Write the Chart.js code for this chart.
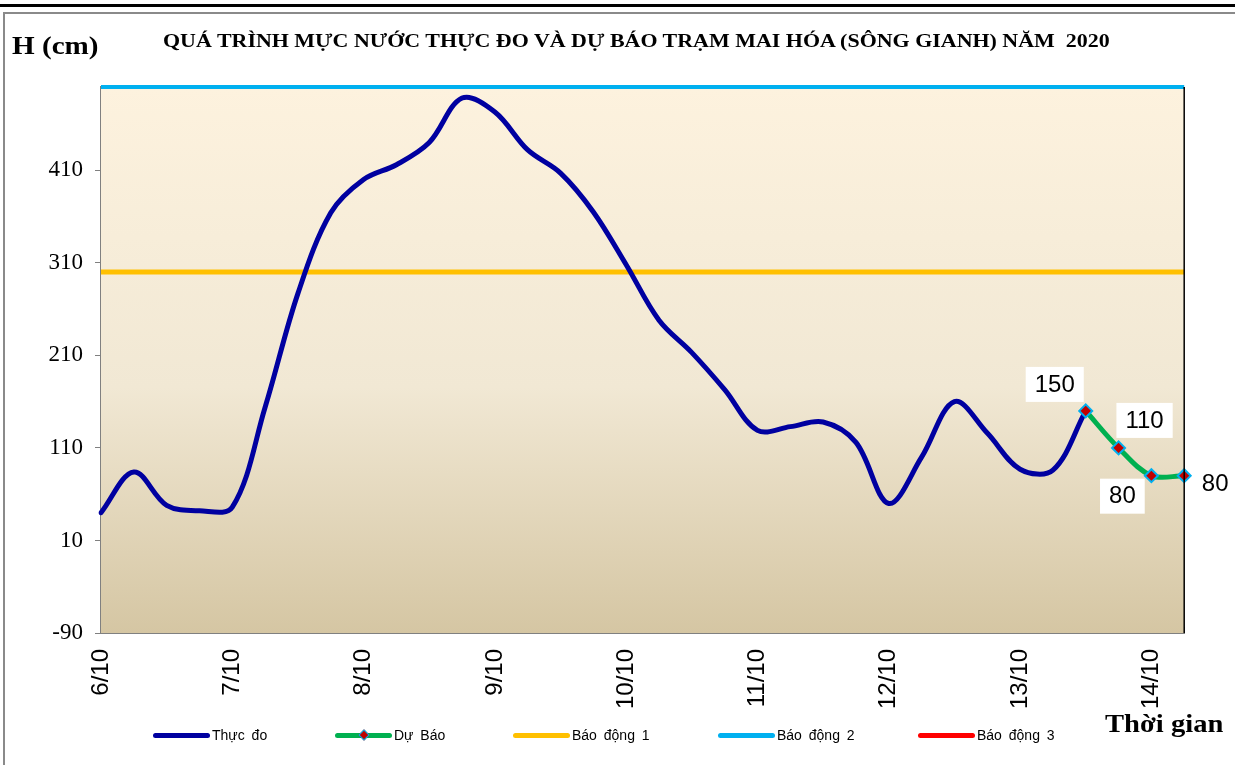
<!DOCTYPE html>
<html>
<head>
<meta charset="utf-8">
<script src="https://cdn.jsdelivr.net/npm/chart.js@4.4.0/dist/chart.umd.min.js"></script>
<style>
  html, body { margin: 0; padding: 0; background: #fff; }
  #wrap { position: relative; width: 1235px; height: 765px; overflow: hidden; }
  #chart { position: absolute; left: 0; top: 0; }
  .topline { position: absolute; left: 0; top: 4px; width: 1235px; height: 3px; background: #000; }
  .frame { position: absolute; left: 3px; top: 12px; width: 1260px; height: 800px; border-left: 2px solid #8a8a8a; border-top: 2px solid #8a8a8a; }
  .t { position: absolute; font-family: "Liberation Serif", "Times New Roman", serif; font-weight: bold; color: #000; white-space: nowrap; transform-origin: left center; }
  #title { left: 163px; top: 31px; font-size: 18px; transform: scaleX(1.22); }
  #hcm { left: 12px; top: 31px; font-size: 26px; transform: scaleX(1.12); }
  #time { left: 1105px; top: 709px; font-size: 26px; transform: scaleX(1.1); }
  .leg { position: absolute; top: 727px; font-family: "Liberation Sans", Arial, sans-serif; font-size: 14px; word-spacing: 3px; color: #000; display: flex; align-items: center; }
  .leg i { display: block; width: 57px; height: 5px; border-radius: 3px; margin-right: 2px; position: relative; }
  .leg i b { position: absolute; left: 25px; top: -2px; width: 6px; height: 6px; background: #c00000; border: 1px solid #00b0f0; transform: rotate(45deg); }
</style>
</head>
<body>
<div id="wrap">
  <div class="topline"></div>
  <div class="frame"></div>
  <canvas id="chart" width="1235" height="765"></canvas>
  <div class="t" id="hcm">H (cm)</div>
  <div class="t" id="title">QUÁ TRÌNH MỰC NƯỚC THỰC ĐO VÀ DỰ BÁO TRẠM MAI HÓA (SÔNG GIANH) NĂM&nbsp; 2020</div>
  <div class="t" id="time">Thời gian</div>
  <div class="leg" style="left:153px"><i style="background:#0000a0"></i>Thực đo</div>
  <div class="leg" style="left:335px"><i style="background:#00b050"><b></b></i>Dự Báo</div>
  <div class="leg" style="left:513px"><i style="background:#ffc000"></i>Báo động 1</div>
  <div class="leg" style="left:718px"><i style="background:#00b0f0"></i>Báo động 2</div>
  <div class="leg" style="left:918px"><i style="background:#ff0000"></i>Báo động 3</div>
</div>
<script>
// ngày hiển thị trên trục (mỗi ngày 4 obs, 6h/lần)
const days = ['6/10', '7/10', '8/10', '9/10', '10/10', '11/10', '12/10', '13/10', '14/10'];
const stepsPerDay = 4;

// mực nước thực đo, 6/10 00h -> 13/10 12h
const observed = [40, 84, 48, 42, 46, 154, 277, 364, 400, 416, 440, 488, 473, 432, 407, 365,
                  308, 248, 213, 173, 129, 133, 138, 116, 50, 100, 160, 126, 87, 86, 150];
// dự báo, 13/10 12h -> 14/10 06h
const forecast = [150, 110, 80, 80];

const alarm1 = 300;
const alarm2 = 500;
const alarm3 = 650;

const yMin = -90;
const yMax = 500;
const yTicks = [-90, 10, 110, 210, 310, 410];

// build category labels
const labels = [];
days.forEach((d, i) => {
  labels.push(d);
  const fill = i < days.length - 1 ? stepsPerDay - 1 : 1;
  for (let k = 0; k < fill; k++) labels.push('');
});
const fcStart = observed.length - 1;

const obsData = labels.map((_, i) => i < observed.length ? observed[i] : null);
const fcData = labels.map((_, i) => (i >= fcStart && i - fcStart < forecast.length) ? forecast[i - fcStart] : null);
const flat = v => labels.map(() => v);

const plotBg = {
  id: 'plotBg',
  beforeDatasetsDraw(chart) {
    const { ctx, chartArea: a } = chart;
    const g = ctx.createLinearGradient(0, a.top, 0, a.bottom);
    g.addColorStop(0, '#fdf2de');
    g.addColorStop(0.55, '#f1e8d4');
    g.addColorStop(1, '#d5c6a3');
    ctx.save();
    ctx.fillStyle = g;
    ctx.fillRect(a.left, a.top, a.right - a.left, a.bottom - a.top);
    ctx.restore();
  },
  afterDraw(chart) {
    const { ctx, chartArea: a } = chart;
    ctx.save();
    ctx.strokeStyle = '#000';
    ctx.lineWidth = 1.5;
    ctx.beginPath();
    ctx.moveTo(a.right, a.top);
    ctx.lineTo(a.right, a.bottom);
    ctx.stroke();
    ctx.restore();
  }
};

// nhãn giá trị dự báo
const labelOffsets = [[-31, -27], [26, -28], [-29, 20], [31, 8]];
const fcLabels = {
  id: 'fcLabels',
  afterDraw(chart) {
    const meta = chart.getDatasetMeta(0);
    const ctx = chart.ctx;
    ctx.save();
    ctx.font = '24px "Liberation Sans", Arial, sans-serif';
    ctx.textAlign = 'center';
    ctx.textBaseline = 'middle';
    forecast.forEach((v, k) => {
      const pt = meta.data[fcStart + k];
      if (!pt) return;
      const x = pt.x + labelOffsets[k][0];
      const y = pt.y + labelOffsets[k][1];
      const txt = String(v);
      const w = ctx.measureText(txt).width + 18;
      ctx.fillStyle = '#fff';
      ctx.fillRect(x - w / 2, y - 17, w, 35);
      ctx.fillStyle = '#000';
      ctx.fillText(txt, x, y + 1);
    });
    ctx.restore();
  }
};

new Chart(document.getElementById('chart'), {
  type: 'line',
  data: {
    labels: labels,
    datasets: [
      {
        label: 'Dự Báo',
        data: fcData,
        borderColor: '#00b050',
        borderWidth: 5,
        tension: 0.35,
        pointStyle: 'rectRot',
        pointRadius: 6.5,
        pointBackgroundColor: '#c00000',
        pointBorderColor: '#00b0f0',
        pointBorderWidth: 2,
        order: 0
      },
      {
        label: 'Thực đo',
        data: obsData,
        borderColor: '#0000a0',
        borderWidth: 5,
        borderCapStyle: 'round',
        tension: 0.35,
        pointRadius: 0,
        order: 1
      },
      { label: 'Báo động 1', data: flat(alarm1), borderColor: '#ffc000', borderWidth: 5, pointRadius: 0, order: 2 },
      { label: 'Báo động 2', data: flat(alarm2), borderColor: '#00b0f0', borderWidth: 4, pointRadius: 0, clip: 6, order: 3 },
      { label: 'Báo động 3', data: flat(alarm3), borderColor: '#ff0000', borderWidth: 5, pointRadius: 0, order: 4 }
    ]
  },
  options: {
    responsive: false,
    animation: false,
    layout: { padding: { top: 87, right: 50, left: 0, bottom: 0 } },
    scales: {
      x: {
        grid: { drawOnChartArea: false, tickLength: -6, color: '#808080' },
        border: { color: '#808080', width: 2 },
        ticks: {
          autoSkip: false,
          minRotation: 90,
          maxRotation: 90,
          padding: 22,
          color: '#000',
          font: { family: '"Liberation Sans", Arial, sans-serif', size: 24 }
        },
        afterFit: s => { s.height = 132; }
      },
      y: {
        min: yMin,
        max: yMax,
        grid: { drawOnChartArea: false, tickLength: 6, color: '#808080' },
        border: { color: '#808080', width: 3 },
        ticks: {
          padding: 12,
          color: '#000',
          font: { family: '"Liberation Serif", "Times New Roman", serif', size: 23 }
        },
        afterBuildTicks: s => { s.ticks = yTicks.map(v => ({ value: v })); },
        afterFit: s => { s.width = 101; }
      }
    },
    plugins: {
      legend: { display: false },
      tooltip: { enabled: false }
    }
  },
  plugins: [plotBg, fcLabels]
});
</script>
</body>
</html>
